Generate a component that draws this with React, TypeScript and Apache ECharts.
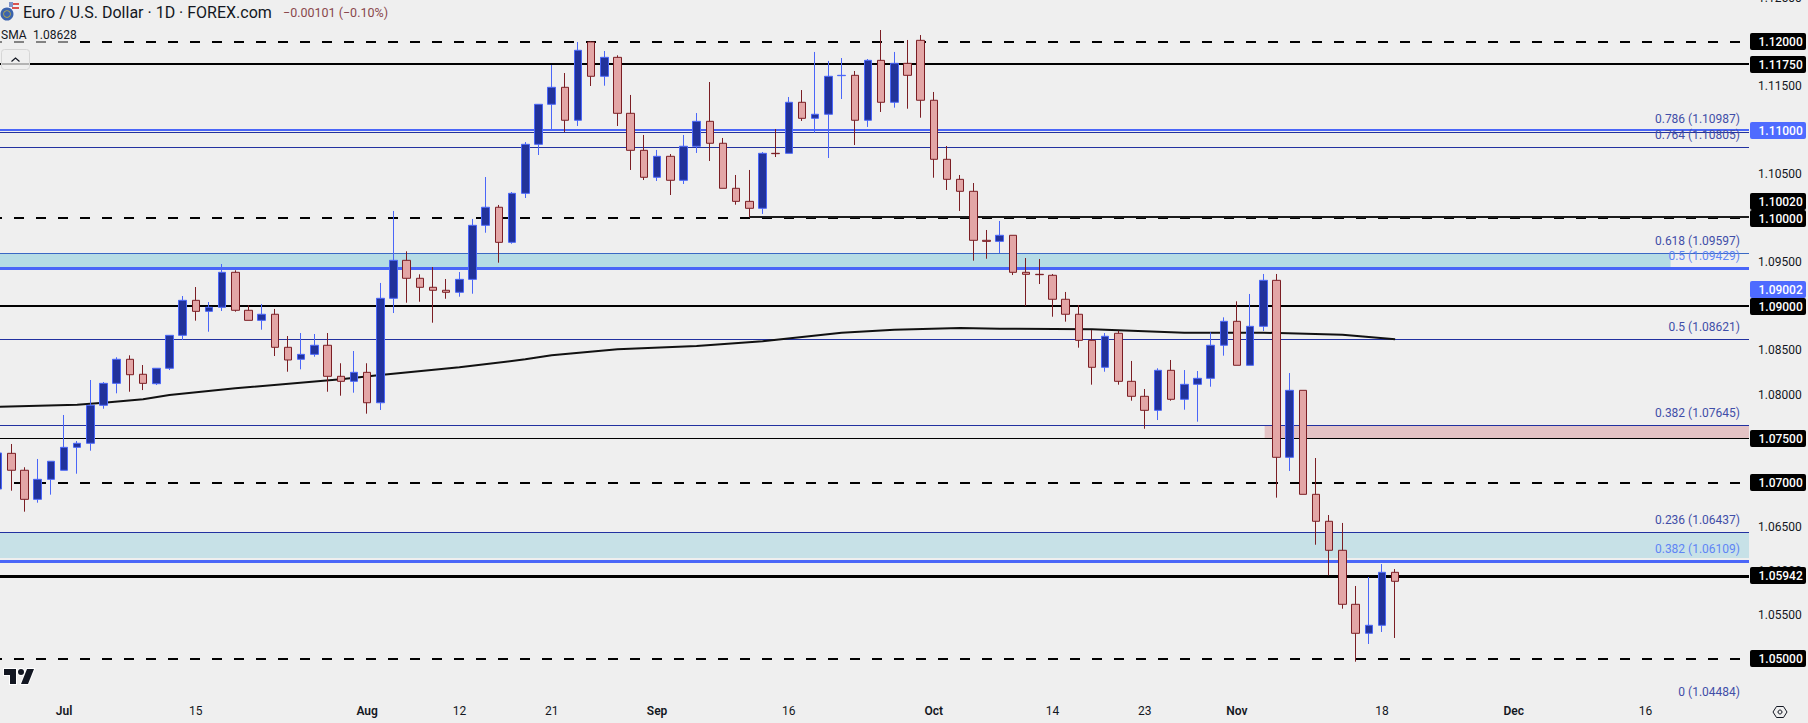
import React, { useEffect, useRef } from "react";
import * as echarts from "echarts";

const W = 1808, H = 723;
const FONT = "Roboto, 'Liberation Sans', sans-serif";

// Daily bars, weekdays only, index 0 = late June 2024
const opens = [1.06928,1.07333,1.07141,1.06811,1.07038,1.07141,1.07401,1.07447,1.07878,1.08127,1.084,1.0823,1.08123,1.08298,1.08672,1.09069,1.08944,1.0899,1.09387,1.08956,1.08842,1.08911,1.08536,1.084,1.08456,1.08559,1.08207,1.0815,1.08252,1.07907,1.09092,1.09523,1.09319,1.09217,1.09183,1.0916,1.09307,1.0992,1.10125,1.09727,1.10283,1.10839,1.11293,1.11486,1.11112,1.12,1.11611,1.11826,1.11191,1.10771,1.10465,1.10703,1.10431,1.10817,1.111,1.10851,1.1034,1.10192,1.10113,1.10737,1.10737,1.11316,1.11134,1.1118,1.11618,1.11622,1.11112,1.11792,1.11316,1.11758,1.12019,1.11339,1.10669,1.10442,1.10306,1.0975,1.09738,1.09807,1.09387,1.09364,1.09353,1.09081,1.08911,1.08615,1.08309,1.08695,1.0815,1.0798,1.07821,1.08275,1.07946,1.08116,1.08184,1.08559,1.08831,1.08332,1.08774,1.09296,1.07288,1.08048,1.06868,1.06562,1.06233,1.0562,1.05291,1.05382,1.05983];
const closes = [1.07337,1.07141,1.06811,1.07038,1.07243,1.07401,1.07447,1.07878,1.08127,1.084,1.08225,1.08127,1.08298,1.08672,1.09069,1.08944,1.0899,1.09387,1.08956,1.08842,1.08911,1.08536,1.08392,1.08456,1.08559,1.08207,1.0815,1.08252,1.07907,1.09092,1.09523,1.09319,1.09217,1.09183,1.0916,1.09307,1.0992,1.10125,1.09727,1.10283,1.10839,1.11293,1.11486,1.11112,1.11906,1.11611,1.11826,1.11191,1.10771,1.10465,1.10703,1.10431,1.10817,1.111,1.10851,1.1034,1.10192,1.10113,1.10737,1.10733,1.11316,1.11134,1.1118,1.11611,1.11622,1.11112,1.11792,1.11316,1.11758,1.11622,1.11339,1.10669,1.10442,1.10306,1.0975,1.09738,1.09807,1.09387,1.09364,1.0936,1.09081,1.08911,1.08615,1.08309,1.08661,1.0815,1.0798,1.07821,1.08275,1.07946,1.08116,1.08184,1.08559,1.08831,1.08332,1.08774,1.09296,1.07288,1.08048,1.06868,1.06562,1.06233,1.0562,1.05291,1.05382,1.05983,1.05881];
const lows = [1.0686,1.06909,1.06671,1.06773,1.06864,1.07141,1.07102,1.07363,1.07839,1.08014,1.08032,1.08051,1.08108,1.08278,1.08619,1.08838,1.08713,1.08948,1.0894,1.08842,1.08736,1.08437,1.08259,1.08286,1.08429,1.08032,1.07987,1.08021,1.07783,1.07825,1.08925,1.09042,1.09053,1.08815,1.09087,1.0911,1.09144,1.09836,1.09496,1.09711,1.1023,1.10718,1.1101,1.10979,1.11047,1.11501,1.11504,1.11047,1.10548,1.10434,1.10423,1.10264,1.10389,1.10741,1.1065,1.1034,1.10154,1.10011,1.10049,1.10695,1.10737,1.11104,1.10971,1.10684,1.11353,1.10831,1.11036,1.11206,1.11255,1.11243,1.11141,1.1046,1.10321,1.10083,1.09519,1.09541,1.09606,1.09356,1.09005,1.09254,1.08883,1.08827,1.08532,1.08112,1.08259,1.08112,1.0793,1.07612,1.07711,1.0793,1.07828,1.07692,1.08089,1.08441,1.08332,1.08332,1.08721,1.0683,1.07133,1.06868,1.06296,1.05949,1.0557,1.04969,1.0517,1.05306,1.05238];
const highs = [1.07416,1.07439,1.07175,1.07269,1.07243,1.07768,1.07473,1.08165,1.08142,1.08423,1.08445,1.08335,1.08298,1.08672,1.09118,1.0922,1.0905,1.09481,1.0941,1.09013,1.09027,1.08971,1.08664,1.08698,1.08687,1.08698,1.08355,1.08494,1.08355,1.09266,1.10083,1.09625,1.09364,1.09447,1.09311,1.0939,1.09992,1.10468,1.10151,1.10298,1.10865,1.11293,1.11739,1.11648,1.12,1.12008,1.11898,1.11849,1.11399,1.10945,1.10775,1.10729,1.10945,1.11194,1.11546,1.10911,1.10491,1.10548,1.10752,1.11013,1.11376,1.11455,1.11887,1.11785,1.11818,1.11671,1.11807,1.12136,1.11887,1.12023,1.12079,1.11433,1.1082,1.10491,1.104,1.09867,1.09969,1.09807,1.09549,1.09538,1.09368,1.09164,1.09016,1.08732,1.08698,1.08724,1.08381,1.08063,1.08298,1.08392,1.08278,1.08267,1.08706,1.08876,1.09058,1.09141,1.09368,1.09368,1.08244,1.08048,1.0728,1.06633,1.06543,1.05828,1.0593,1.06077,1.0602];

// 200-day SMA, sampled along the drawn curve
const smaBars = [0,6,8,11,13,18,26,29,35,40,42,47,53,58,64,68,73,76,83,90,96,102,106];
const smaValues = [1.07862,1.07885,1.07908,1.07946,1.07995,1.08071,1.08173,1.08222,1.08309,1.084,1.08445,1.08513,1.08551,1.08604,1.08702,1.08736,1.08755,1.08747,1.0874,1.08702,1.08702,1.08679,1.08628];

// Horizontal levels, grouped by the way they are drawn
const dashedLevels = [1.12, 1.1, 1.07, 1.05];
const blackLevels = [1.1175, 1.09];
const thinBlackLevels = [1.075];
const heavyBlackLevels = [1.05932];
const darkBlueLevels = [1.10977, 1.10805, 1.08621, 1.07645, 1.06437];
const brightBlueLevels = [1.11];
const heavyBlueLevels = [1.09429, 1.06109];
const steelBlueLevels = [1.09597];
const partialLevel = 1.1002;
const partialLevelStartBar = 57;

// Shaded zones
const cyanZoneTop = 1.09597, cyanZoneBottom = 1.09429, cyanZoneEndBar = 126.9;
const paleZoneTop = 1.06437, paleZoneBottom = 1.06146;
const pinkZoneTop = 1.07645, pinkZoneBottom = 1.075, pinkZoneStartBar = 96.1;

// Fibonacci labels
const fibDarkRatios = ["0.786", "0.764", "0.618", "0.5", "0.382", "0.236", "0"];
const fibDarkPrices = [1.10987, 1.10805, 1.09597, 1.08621, 1.07645, 1.06437, 1.04484];
const fibLightRatios = ["0.5", "0.382"];
const fibLightPrices = [1.09429, 1.06109];

// Price axis
const priceTicks = [1.115, 1.105, 1.095, 1.085, 1.08, 1.065, 1.06, 1.055];
const clippedTopTick = [1.125];
const blackTags = [1.12, 1.1175, 1.1002, 1.1, 1.09, 1.075, 1.07, 1.05942, 1.05];
const blueTags = [1.11, 1.09002];

// Time axis
const timeTickBars = [5, 15, 28, 35, 42, 50, 60, 71, 80, 87, 94, 105, 115, 125];
const timeTickLabels = ["Jul", "15", "Aug", "12", "21", "Sep", "16", "Oct", "14", "23", "Nov", "18", "Dec", "16"];

const xMin = 0.144, xMax = 132.85;
const yMax = 1.124765, yMin = 1.045797;

const TV_LOGO = "M14 6H2v6h6v9h6V6Zm12 15h-7l6-15h7l-6 15Zm-7-9a3 3 0 1 0 0-6 3 3 0 0 0 0 6Z";
echarts.graphic.registerShape("tvLogo", echarts.graphic.extendPath(TV_LOGO, {}) as any);

function crisp(y: number, w: number) {
  return w % 2 ? Math.round(y - 0.5) + 0.5 : Math.round(y);
}

function levelSeries(name: string, prices: number[], color: string, width: number, dash?: number[], z = 2, startBar?: number) {
  return {
    type: "custom", name, silent: true, z, coordinateSystem: "cartesian2d",
    encode: { x: 0, y: 1 },
    data: prices.map((p) => [startBar ?? xMin, p]),
    renderItem: (params: any, api: any) => {
      const cs = params.coordSys;
      const y = crisp(api.coord([api.value(0), api.value(1)])[1], width);
      const x1 = startBar != null ? api.coord([startBar, api.value(1)])[0] : dash ? cs.x - 8 : cs.x;
      const x2 = cs.x + cs.width - (dash ? 9 : 0);
      return { type: "line", shape: { x1, y1: y, x2, y2: y }, style: { stroke: color, lineWidth: width, lineDash: dash, fill: null } };
    },
  };
}

function zoneSeries(name: string, top: number, bottom: number, color: string, startBar: number, endBar: number) {
  return {
    type: "custom", name, silent: true, z: 1, coordinateSystem: "cartesian2d",
    encode: { x: 0, y: 1 },
    data: [[startBar, top, endBar, bottom]],
    renderItem: (_: any, api: any) => {
      const a = api.coord([api.value(0), api.value(1)]);
      const b = api.coord([api.value(2), api.value(3)]);
      return { type: "rect", shape: { x: a[0], y: a[1], width: b[0] - a[0], height: b[1] - a[1] }, style: { fill: color } };
    },
  };
}

function fibSeries(name: string, ratios: string[], prices: number[], color: string) {
  return {
    type: "custom", name, silent: true, z: 6, coordinateSystem: "cartesian2d",
    encode: { x: 0, y: 1 },
    data: prices.map((p) => [xMin, p]),
    renderItem: (params: any, api: any) => {
      const cs = params.coordSys;
      const y = api.coord([xMin, api.value(1)])[1];
      return {
        type: "text", x: cs.x + cs.width - 9, y: y - 12.7,
        style: {
          text: `${ratios[params.dataIndex]} (${api.value(1).toFixed(5)})`,
          fill: color, font: `12px ${FONT}`, align: "right", verticalAlign: "middle",
        },
      };
    },
  };
}

// tick above the top of the pane: only its lower edge is on the page
function clippedTickSeries(prices: number[]) {
  return {
    type: "custom", name: "clipped tick", silent: true, z: 6, coordinateSystem: "cartesian2d",
    encode: { x: 0, y: 1 },
    data: prices.map((p) => [xMax, p]),
    renderItem: (params: any, api: any) => {
      const cs = params.coordSys;
      const y = api.coord([xMax, api.value(1)])[1];
      return {
        type: "text", x: cs.x + cs.width + 9, y,
        style: { text: api.value(1).toFixed(5), fill: "#131722", font: `12px ${FONT}`, align: "left", verticalAlign: "middle" },
      };
    },
  };
}

const TAG_H = 17;
function tagSeries(name: string, prices: number[], color: string, z: number) {
  return {
    type: "custom", name, silent: true, z, coordinateSystem: "cartesian2d",
    encode: { x: 0, y: 1 },
    data: prices.map((p) => [xMax, p]),
    renderItem: (params: any, api: any) => {
      const cs = params.coordSys;
      const price = api.value(1);
      let y = api.coord([xMax, price])[1];
      // a tag that would overlap the one just beneath it is pushed up, as a price scale does
      const all = [...blackTags, ...blueTags];
      all.forEach((other) => {
        if (other < price) {
          const oy = api.coord([xMax, other])[1];
          if (oy - y < TAG_H) y = oy - TAG_H;
        }
      });
      const x = cs.x + cs.width + 1;
      return {
        type: "group",
        children: [
          { type: "rect", shape: { x, y: Math.round(y - TAG_H / 2), width: 56, height: TAG_H, r: 2 }, style: { fill: color } },
          { type: "text", x: x + 8.5, y: y + 0.5, style: { text: price.toFixed(5), fill: "#ffffff", font: `500 12px ${FONT}`, align: "left", verticalAlign: "middle" } },
        ],
      };
    },
  };
}

export default function App() {
  const ref = useRef<HTMLDivElement>(null);
  useEffect(() => {
    const chart = echarts.init(ref.current!, undefined, { renderer: "svg" });
    const candles = opens.map((o, i) => [i, o, closes[i], lows[i], highs[i]]);
    chart.setOption({
      animation: false,
      backgroundColor: "#efefef",
      grid: { left: 0, top: 0, width: 1749, height: 696, containLabel: false },
      tooltip: { show: false },
      xAxis: {
        type: "value", min: xMin, max: xMax,
        splitLine: { show: false }, axisLine: { show: false }, axisTick: { show: false },
        axisLabel: {
          customValues: timeTickBars, margin: 9, hideOverlap: false, showMinLabel: true, showMaxLabel: true,
          formatter: (v: number) => {
            const t = timeTickLabels[timeTickBars.indexOf(v)] ?? "";
            return /^\d/.test(t) ? `{d|${t}}` : `{m|${t}}`;
          },
          rich: {
            d: { color: "#131722", fontFamily: FONT, fontSize: 12 },
            m: { color: "#131722", fontFamily: FONT, fontSize: 12, fontWeight: 600 },
          },
        },
      },
      yAxis: {
        type: "value", min: yMin, max: yMax, position: "right",
        splitLine: { show: false }, axisLine: { show: false }, axisTick: { show: false },
        axisLabel: {
          customValues: priceTicks, margin: 9, color: "#131722", fontFamily: FONT, fontSize: 12,
          showMinLabel: true, showMaxLabel: true, hideOverlap: false,
          formatter: (v: number) => v.toFixed(5),
        },
      },
      series: [
        zoneSeries("cyan zone", cyanZoneTop, cyanZoneBottom, "#b6dce5", xMin, cyanZoneEndBar),
        zoneSeries("pale zone", paleZoneTop, paleZoneBottom, "#c7e1e7", xMin, xMax),
        zoneSeries("pink zone", pinkZoneTop, pinkZoneBottom, "#e4c3c5", pinkZoneStartBar, xMax),
        levelSeries("dashed", dashedLevels, "#000000", 2, [10, 12]),
        levelSeries("black", blackLevels, "#000000", 2),
        levelSeries("thin black", thinBlackLevels, "#000000", 1),
        levelSeries("heavy black", heavyBlackLevels, "#000000", 3),
        levelSeries("dark blue", darkBlueLevels, "#2231a0", 1),
        levelSeries("bright blue", brightBlueLevels, "#4a66f8", 2),
        levelSeries("heavy blue", heavyBlueLevels, "#4a66f8", 3),
        levelSeries("steel blue", steelBlueLevels, "#3a68c4", 1),
        levelSeries("partial", [partialLevel], "#1c1c1c", 2, undefined, 2, partialLevelStartBar),
        {
          type: "line", name: "SMA", z: 3, silent: true, showSymbol: false, symbol: "none",
          lineStyle: { color: "#111111", width: 2 },
          data: smaBars.map((b, i) => [b, smaValues[i]]),
        },
        {
          type: "candlestick", name: "EURUSD", z: 4, silent: true, barWidth: 8,
          itemStyle: { color: "#21329b", color0: "#e3a6a6", borderColor: "#4a66f8", borderColor0: "#7b1e24", borderWidth: 1 },
          data: candles,
        },
        fibSeries("fib", fibDarkRatios, fibDarkPrices, "#3f4ea8"),
        fibSeries("fib light", fibLightRatios, fibLightPrices, "#5f85f5"),
        clippedTickSeries(clippedTopTick),
        tagSeries("black tags", blackTags, "#000000", 7),
        tagSeries("blue tags", blueTags, "#4e6bff", 8),
      ],
      graphic: {
        elements: [
          // legend wash over the lines
          { type: "rect", z: 20, shape: { x: 0, y: 27, width: 80, height: 16 }, style: { fill: "rgba(239,239,239,0.55)" } },
          // currency icon
          { type: "circle", z: 21, shape: { cx: 13, cy: 8, r: 6.5 }, style: { fill: "#f1f1f5" } },
          { type: "rect", z: 22, shape: { x: 12, y: 3, width: 7, height: 2 }, style: { fill: "#d9534f" } },
          { type: "rect", z: 22, shape: { x: 12, y: 7, width: 7, height: 2 }, style: { fill: "#d9534f" } },
          { type: "rect", z: 22, shape: { x: 9, y: 2, width: 4, height: 5 }, style: { fill: "#7e93c8" } },
          { type: "circle", z: 23, shape: { cx: 7, cy: 14, r: 6.5 }, style: { fill: "#3b63ad" } },
          { type: "ring", z: 24, shape: { cx: 7, cy: 14, r: 3.8, r0: 3 }, style: { fill: "#b9ae4a" } },
          { type: "text", z: 25, x: 23, y: 12, style: { text: "Euro / U.S. Dollar · 1D · FOREX.com", fill: "#131722", font: `16px ${FONT}`, verticalAlign: "middle" } },
          { type: "text", z: 25, x: 283, y: 12, style: { text: "−0.00101 (−0.10%)", fill: "#8a474c", font: `12.5px ${FONT}`, verticalAlign: "middle" } },
          { type: "text", z: 25, x: 1, y: 35, style: { text: "SMA", fill: "#131722", font: `12px ${FONT}`, verticalAlign: "middle" } },
          { type: "text", z: 25, x: 33, y: 35, style: { text: "1.08628", fill: "#131722", font: `12px ${FONT}`, verticalAlign: "middle" } },
          // collapse button
          { type: "rect", z: 26, shape: { x: 1.5, y: 49.5, width: 28, height: 20, r: 3 }, style: { fill: "rgba(239,239,239,0.75)", stroke: "#d6d6d6", lineWidth: 1 } },
          { type: "polyline", z: 27, shape: { points: [[11.5, 61.5], [15.5, 58], [19.5, 61.5]] }, style: { stroke: "#131722", lineWidth: 1.2, fill: null } },
          // TradingView logo
          { type: "tvLogo", z: 28, x: 2, y: 663, style: { fill: "#131722", stroke: "#ffffff", lineWidth: 2, strokeFirst: true } },
          // settings hexagon
          { type: "polygon", z: 28, shape: { points: [[1773, 712], [1776.5, 706.5], [1783.5, 706.5], [1787, 712], [1783.5, 717.5], [1776.5, 717.5]] }, style: { fill: null, stroke: "#131722", lineWidth: 1 } },
          { type: "circle", z: 28, shape: { cx: 1780, cy: 712, r: 2 }, style: { fill: null, stroke: "#131722", lineWidth: 1 } },
        ],
      },
    });
    return () => chart.dispose();
  }, []);
  return <div ref={ref} style={{ position: "absolute", left: 0, top: 0, width: W, height: H }} />;
}
